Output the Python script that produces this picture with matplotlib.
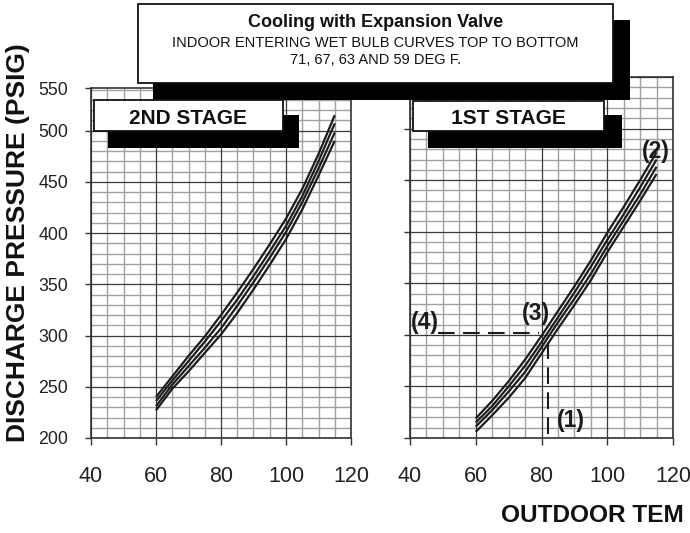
import matplotlib
matplotlib.use("Agg")
import matplotlib.pyplot as plt
from matplotlib.patches import Rectangle
import numpy as np

# ---------------- data ----------------
temps = [60, 65, 70, 75, 80, 85, 90, 95, 100, 105, 110, 115]
wet_bulbs = [71, 67, 63, 59]

# 2nd stage discharge pressure (psig), curves top to bottom
stage2_wb71 = [240, 260, 280, 299, 320, 342, 365, 389, 414, 443, 477, 515]
stage2_wb67 = [236, 256, 275, 294, 314, 335, 358, 382, 407, 436, 470, 507]
stage2_wb63 = [231, 252, 270, 288, 307, 329, 352, 376, 401, 430, 463, 498]
stage2_wb59 = [227, 248, 265, 283, 301, 322, 345, 369, 394, 423, 456, 490]

# 1st stage discharge pressure (psig), curves top to bottom
stage1_wb71 = [219, 236, 255, 276, 299, 323, 347, 372, 399, 424, 450, 477]
stage1_wb67 = [215, 231, 250, 270, 293, 317, 341, 366, 392, 417, 443, 470]
stage1_wb63 = [211, 227, 245, 264, 288, 312, 335, 359, 386, 411, 436, 463]
stage1_wb59 = [206, 222, 239, 258, 282, 306, 329, 353, 380, 405, 430, 456]

# example reading on the 1st stage chart
example_temp = 82
example_press = 301.5
example_press_low = 204
example_temp_left = 48.4
example_temp_right = 79.3

x_ticks = [40, 60, 80, 100, 120]
y_ticks = [200, 250, 300, 350, 400, 450, 500]
y_tick_labels = ["200", "250", "300", "350", "400", "450", "500"]
left_top = 541.5

title_l1 = "Cooling with Expansion Valve"
title_l2 = "INDOOR ENTERING WET BULB CURVES TOP TO BOTTOM"
title_l3 = "71, 67, 63 AND 59 DEG F."
y_label = "DISCHARGE PRESSURE (PSIG)"
x_label = "OUTDOOR TEM"

# ---------------- figure ----------------
W, H = 690, 533
fig = plt.figure(figsize=(W / 100, H / 100), dpi=100)
plt.rcParams['font.family'] = ['Liberation Sans', 'DejaVu Sans']

def fx(px):
    return px / W

def fy(py):
    return 1 - py / H

def make_axes(l, t, r, b):
    return fig.add_axes([fx(l), fy(b), fx(r) - fx(l), fy(t) - fy(b)])

axL = make_axes(91, 88, 351, 438)
axR = make_axes(410, 77, 673, 438)

narrow = ['Liberation Sans Narrow', 'Liberation Sans', 'DejaVu Sans']

def style(ax, ytop, show_ylabels):
    ax.set_xlim(40, 120)
    ax.set_ylim(200, ytop)
    # grid
    for xv in np.arange(40, 121, 5):
        major = (xv % 20 == 0)
        ax.axvline(xv, color='#3a3a3a' if major else '#a0a0a0',
                   lw=0.9 if major else 1.0, zorder=1 if major else 0.5)
    for yv in np.arange(200, ytop + 0.1, 10):
        major = (yv % 50 == 0)
        ax.axhline(yv, color='#3a3a3a' if major else '#a0a0a0',
                   lw=0.9 if major else 1.0, zorder=1 if major else 0.5)
    for s in ax.spines.values():
        s.set_color('#333333')
        s.set_linewidth(1.2)
    ax.set_xticks(x_ticks)
    ax.set_xticklabels([str(v) for v in x_ticks], family=narrow, fontsize=15.5,
                       color='#222222')
    ax.tick_params(axis='x', direction='out', length=5, width=1.0, pad=15,
                   color='#333333')
    if show_ylabels:
        ax.set_yticks(y_ticks + [ytop])
        ax.set_yticklabels(y_tick_labels + ["550"], fontsize=12.8, color='#222222')
    else:
        ax.set_yticks(y_ticks + [550])
        ax.set_yticklabels([])
    ax.tick_params(axis='y', direction='out', length=4.5, width=1.0, pad=12,
                   color='#333333')

style(axL, left_top, True)
style(axR, 550, False)

curve_kw = dict(color='#1c1c1c', lw=1.6, solid_capstyle='butt', zorder=3)
for ys in [stage2_wb71, stage2_wb67, stage2_wb63, stage2_wb59]:
    axL.plot(temps, ys, **curve_kw)
for ys in [stage1_wb71, stage1_wb67, stage1_wb63, stage1_wb59]:
    axR.plot(temps, ys, **curve_kw)

# dashed example lines
dash_kw = dict(color='#1c1c1c', lw=1.5, dashes=(8, 4), zorder=4)
axR.plot([example_temp_left, example_temp_right], [example_press, example_press], **dash_kw)
axR.plot([example_temp, example_temp], [example_press_low, example_press - 3], **dash_kw)

lab_kw = dict(fontsize=16.5, fontweight='bold', ha='center', va='center',
              color='#1c1c1c', zorder=5)
axR.text(89.0, 217, "(1)", **lab_kw)
axR.text(114.8, 478, "(2)", **lab_kw)
axR.text(78.3, 320.5, "(3)", **lab_kw)
axR.text(44.6, 312, "(4)", **lab_kw)

# ---------------- boxes with shadows ----------------
def box(l, t, r, b, sl, st, sr, sb):
    fig.add_artist(Rectangle((fx(sl), fy(sb)), fx(sr) - fx(sl), fy(st) - fy(sb),
                             transform=fig.transFigure, facecolor='black',
                             edgecolor='none', zorder=10))
    fig.add_artist(Rectangle((fx(l), fy(b)), fx(r) - fx(l), fy(t) - fy(b),
                             transform=fig.transFigure, facecolor='white',
                             edgecolor='#111111', lw=1.3, zorder=11))

box(138, 4, 613, 83, 153, 20, 630, 100)
box(94, 100, 283, 131, 108, 115, 299, 148)
box(413, 101, 604, 131, 428, 115, 622, 148)

fig.text(fx(375.5), fy(22), title_l1, fontsize=13, fontweight='bold',
         ha='center', va='center', zorder=12, color='#111111')
fig.text(fx(375.5), fy(43), title_l2, fontsize=10.5,
         ha='center', va='center', zorder=12, color='#111111')
fig.text(fx(375.5), fy(60), title_l3, fontsize=10.5,
         ha='center', va='center', zorder=12, color='#111111')

fig.text(fx(188), fy(118), "2ND STAGE", fontsize=15, fontweight='bold',
         ha='center', va='center', zorder=12, color='#111111')
fig.text(fx(508.7), fy(118), "1ST STAGE", fontsize=15, fontweight='bold',
         ha='center', va='center', zorder=12, color='#111111')

fig.text(fx(18), fy(243), y_label, fontsize=19, fontweight='bold',
         rotation=90, ha='center', va='center', color='#111111')
fig.text(fx(501), fy(515), x_label, fontsize=17.6, fontweight='bold',
         ha='left', va='center', color='#111111')

fig.savefig("out.png", dpi=100)
